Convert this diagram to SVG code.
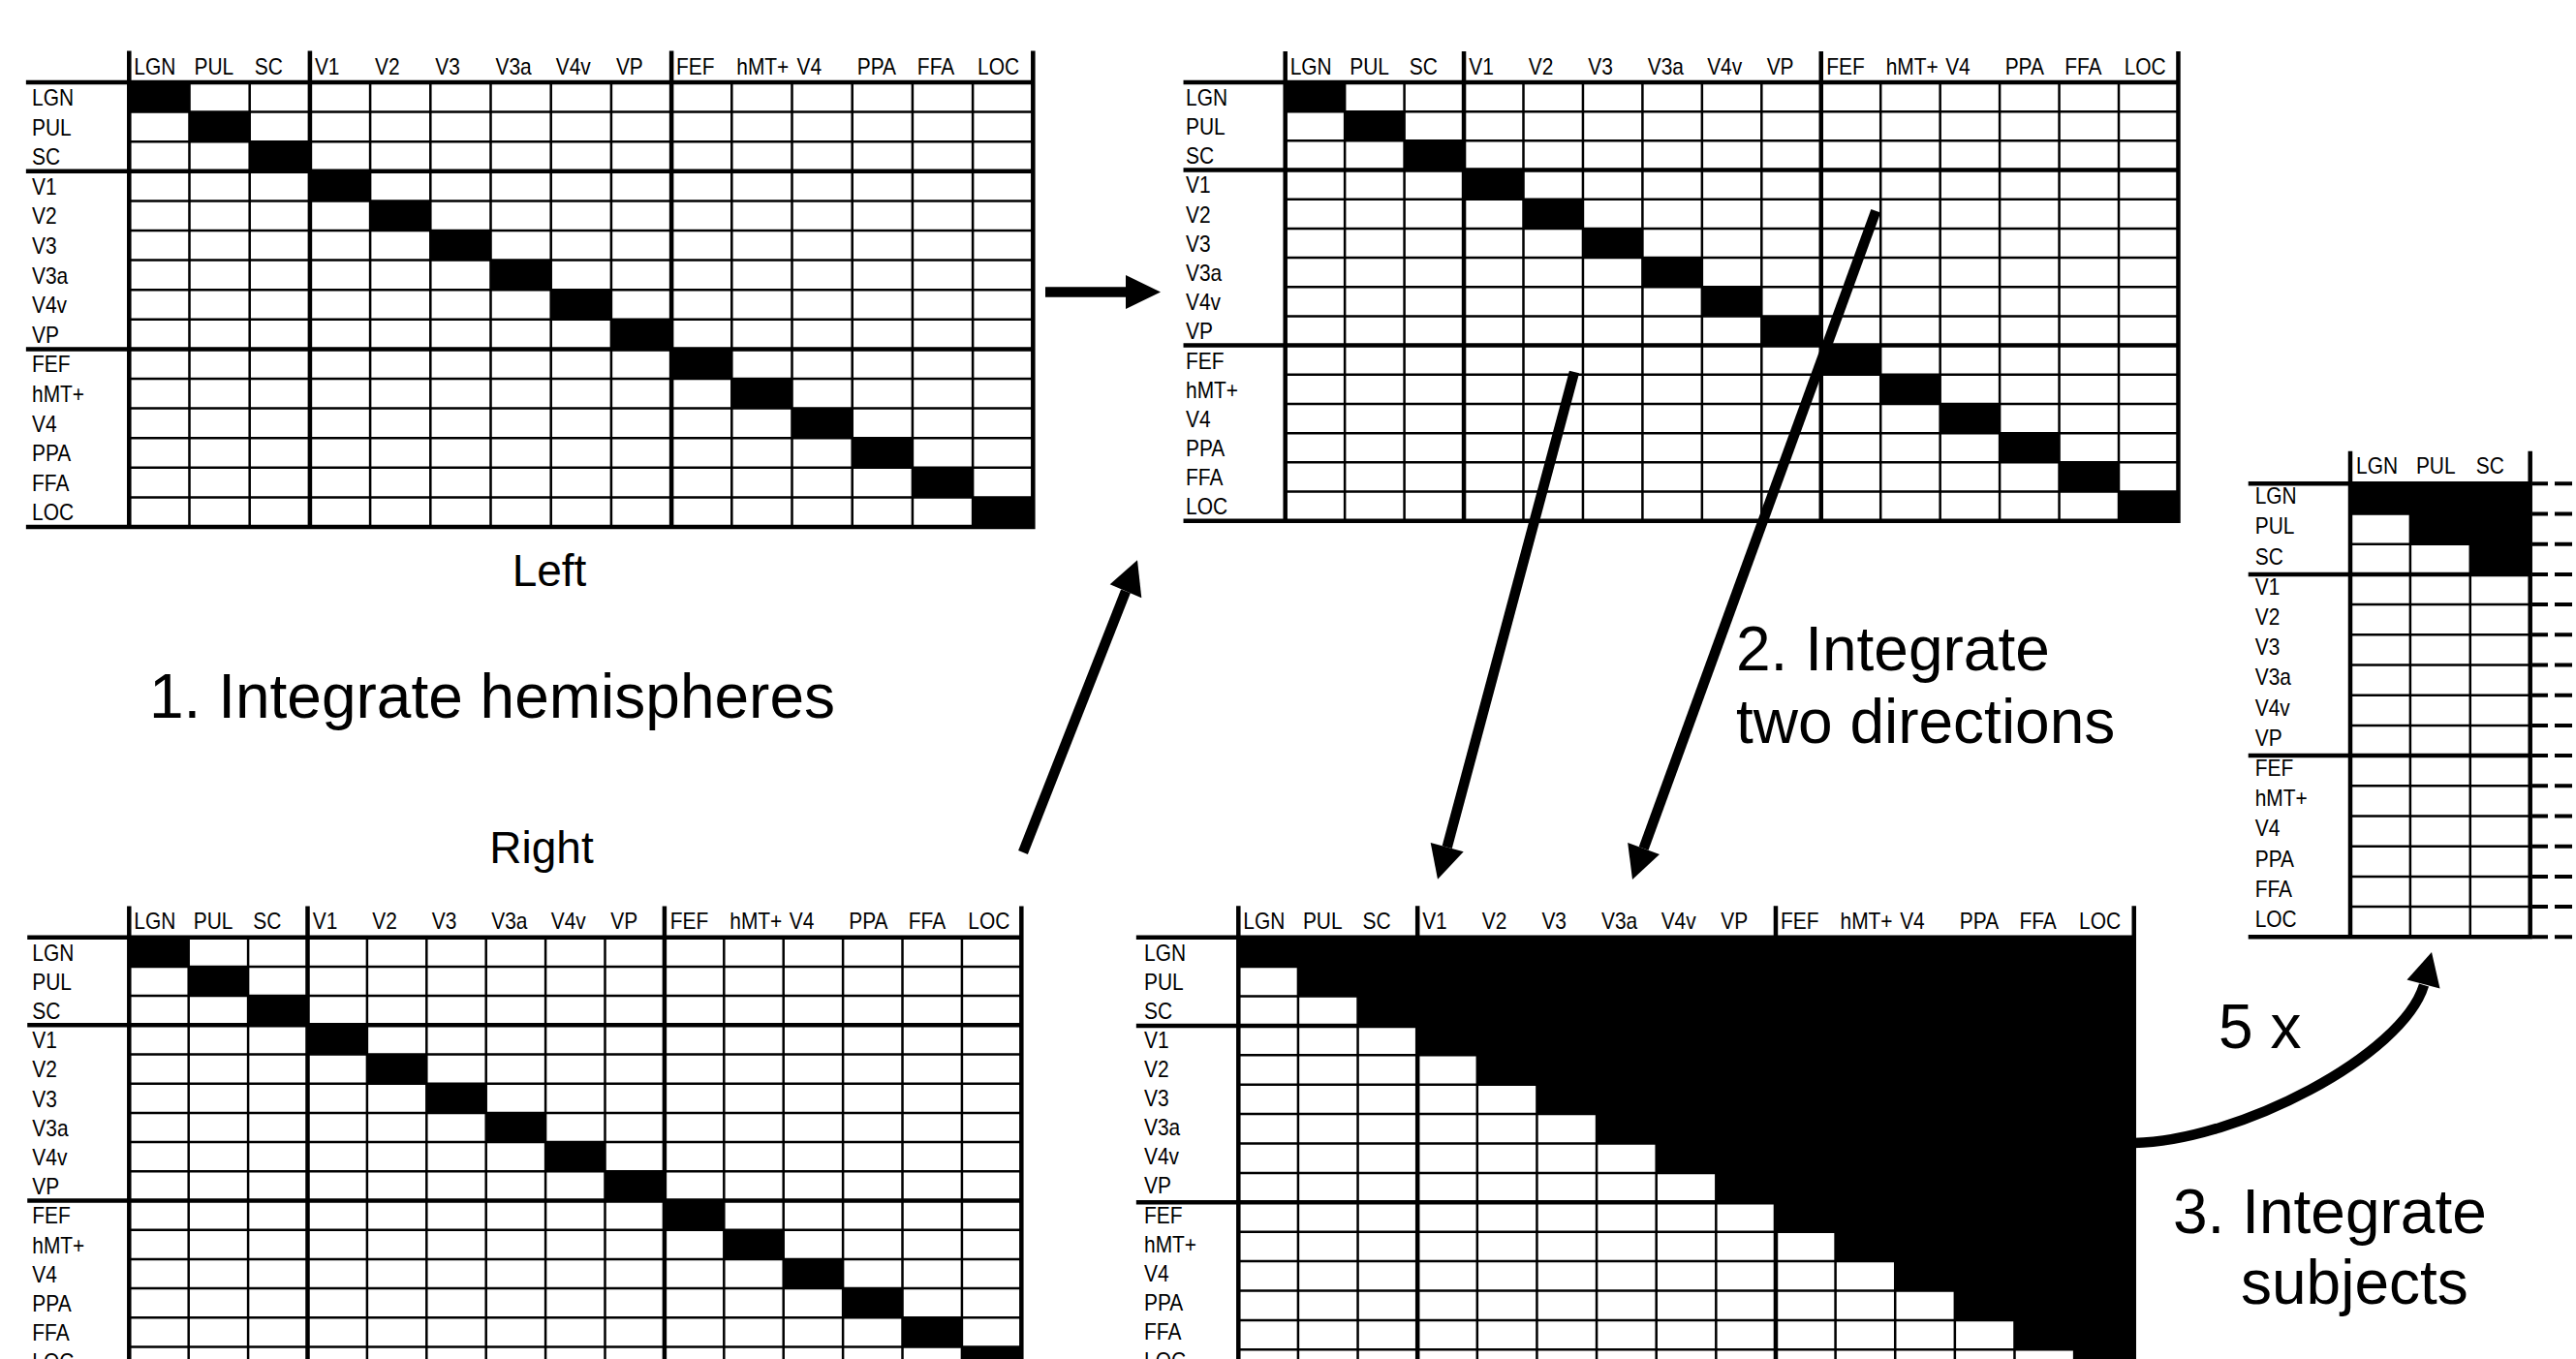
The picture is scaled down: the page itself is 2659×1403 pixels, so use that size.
<svg xmlns="http://www.w3.org/2000/svg" width="2659" height="1403" viewBox="0 0 2659 1403">
<style>
.thin{fill:none;stroke:#000;stroke-width:2.5}
.thick{fill:none;stroke:#000;stroke-width:4.5;stroke-linecap:square}
.dash{fill:none;stroke:#000;stroke-width:4}
.lab{font-family:"Liberation Sans",Arial,sans-serif;font-size:23px;fill:#000}
.big{font-family:"Liberation Sans",Arial,sans-serif;font-size:64px;fill:#000}
.mid{font-family:"Liberation Sans",Arial,sans-serif;font-size:46px;fill:#000}
.shaft{fill:none;stroke:#000;stroke-width:10.5}
.head{fill:#000;stroke:none}
.fill{fill:#000;stroke:none}
</style>
<defs>
<g id="grid15">
<path class="thin" d="M61.5,0V454.5M123,0V454.5M246,0V454.5M307.5,0V454.5M369,0V454.5M430.5,0V454.5M492,0V454.5M615,0V454.5M676.5,0V454.5M738,0V454.5M799.5,0V454.5M861,0V454.5M0,30.3H922.5M0,60.6H922.5M0,121.2H922.5M0,151.5H922.5M0,181.8H922.5M0,212.1H922.5M0,242.4H922.5M0,303H922.5M0,333.3H922.5M0,363.6H922.5M0,393.9H922.5M0,424.2H922.5"/>
<path class="thick" d="M0,-30V454.5M184.5,-30V454.5M553.5,-30V454.5M922.5,-30V454.5M-103,0H922.5M-103,90.9H922.5M-103,272.7H922.5M-103,454.5H922.5"/>
</g>
<path id="diag" class="fill" d="M0,0h61.5v30.3h-61.5zm61.5,30.3h61.5v30.3h-61.5zm61.5,30.3h61.5v30.3h-61.5zm61.5,30.3h61.5v30.3h-61.5zm61.5,30.3h61.5v30.3h-61.5zm61.5,30.3h61.5v30.3h-61.5zm61.5,30.3h61.5v30.3h-61.5zm61.5,30.3h61.5v30.3h-61.5zm61.5,30.3h61.5v30.3h-61.5zm61.5,30.3h61.5v30.3h-61.5zm61.5,30.3h61.5v30.3h-61.5zm61.5,30.3h61.5v30.3h-61.5zm61.5,30.3h61.5v30.3h-61.5zm61.5,30.3h61.5v30.3h-61.5zm61.5,30.3h61.5v30.3h-61.5z"/>
<path id="tri" class="fill" d="M0,0H922.5V454.5H861V424.2H799.5V393.9H738V363.6H676.5V333.3H615V303H553.5V272.7H492V242.4H430.5V212.1H369V181.8H307.5V151.5H246V121.2H184.5V90.9H123V60.6H61.5V30.3H0Z"/>
</defs>
<rect x="0" y="0" width="2659" height="1403" fill="#fff"/>

<g id="matrix-left">
<use href="#diag" transform="translate(133.3,85) scale(1.0114,1.0099)"/>
<use href="#grid15" transform="translate(133.3,85) scale(1.0114,1.0099)"/>
<g class="lab" transform="translate(33,0) scale(0.91,1)">
<text x="0" y="109">LGN</text><text x="0" y="139.6">PUL</text><text x="0" y="170.2">SC</text><text x="0" y="200.8">V1</text><text x="0" y="231.4">V2</text><text x="0" y="262">V3</text><text x="0" y="292.6">V3a</text><text x="0" y="323.2">V4v</text><text x="0" y="353.8">VP</text><text x="0" y="384.4">FEF</text><text x="0" y="415">hMT+</text><text x="0" y="445.6">V4</text><text x="0" y="476.2">PPA</text><text x="0" y="506.8">FFA</text><text x="0" y="537.4">LOC</text>
</g>
<g class="lab" transform="translate(138.3,77) scale(0.91,1)">
<text x="0">LGN</text><text x="68.35">PUL</text><text x="136.7">SC</text><text x="205.05">V1</text><text x="273.4">V2</text><text x="341.75">V3</text><text x="410.1">V3a</text><text x="478.45">V4v</text><text x="546.8">VP</text><text x="615.15">FEF</text><text x="683.5">hMT+</text><text x="751.85">V4</text><text x="820.2">PPA</text><text x="888.55">FFA</text><text x="956.9">LOC</text>
</g>
</g>

<g id="matrix-integrated-hemispheres">
<use href="#diag" transform="translate(1326.7,85) scale(0.9992,0.996)"/>
<use href="#grid15" transform="translate(1326.7,85) scale(0.9992,0.996)"/>
<g class="lab" transform="translate(1224,0) scale(0.91,1)">
<text x="0" y="109">LGN</text><text x="0" y="139.2">PUL</text><text x="0" y="169.4">SC</text><text x="0" y="199.5">V1</text><text x="0" y="229.7">V2</text><text x="0" y="259.9">V3</text><text x="0" y="290.1">V3a</text><text x="0" y="320.3">V4v</text><text x="0" y="350.4">VP</text><text x="0" y="380.6">FEF</text><text x="0" y="410.8">hMT+</text><text x="0" y="441">V4</text><text x="0" y="471.2">PPA</text><text x="0" y="501.3">FFA</text><text x="0" y="531.5">LOC</text>
</g>
<g class="lab" transform="translate(1331.7,76.7) scale(0.91,1)">
<text x="0">LGN</text><text x="67.58">PUL</text><text x="135.16">SC</text><text x="202.74">V1</text><text x="270.32">V2</text><text x="337.9">V3</text><text x="405.48">V3a</text><text x="473.06">V4v</text><text x="540.64">VP</text><text x="608.22">FEF</text><text x="675.8">hMT+</text><text x="743.38">V4</text><text x="810.96">PPA</text><text x="878.54">FFA</text><text x="946.12">LOC</text>
</g>
</g>

<g id="matrix-right">
<use href="#diag" transform="translate(133.3,967.7) scale(0.9984,0.9967)"/>
<use href="#grid15" transform="translate(133.3,967.7) scale(0.9984,0.9967)"/>
<g class="lab" transform="translate(33.3,0) scale(0.91,1)">
<text x="0" y="991.7">LGN</text><text x="0" y="1021.9">PUL</text><text x="0" y="1052.1">SC</text><text x="0" y="1082.3">V1</text><text x="0" y="1112.5">V2</text><text x="0" y="1142.7">V3</text><text x="0" y="1172.9">V3a</text><text x="0" y="1203.1">V4v</text><text x="0" y="1233.3">VP</text><text x="0" y="1263.5">FEF</text><text x="0" y="1293.7">hMT+</text><text x="0" y="1323.9">V4</text><text x="0" y="1354.1">PPA</text><text x="0" y="1384.3">FFA</text><text x="0" y="1414.5">LOC</text>
</g>
<g class="lab" transform="translate(138.3,959.3) scale(0.91,1)">
<text x="0">LGN</text><text x="67.58">PUL</text><text x="135.16">SC</text><text x="202.74">V1</text><text x="270.32">V2</text><text x="337.9">V3</text><text x="405.48">V3a</text><text x="473.06">V4v</text><text x="540.64">VP</text><text x="608.22">FEF</text><text x="675.8">hMT+</text><text x="743.38">V4</text><text x="810.96">PPA</text><text x="878.54">FFA</text><text x="946.12">LOC</text>
</g>
</g>

<g id="matrix-integrated-directions">
<use href="#tri" transform="translate(1278.3,967.7) scale(1.0021,1.0033)"/>
<use href="#grid15" transform="translate(1278.3,967.7) scale(1.0021,1.0033)"/>
<g class="lab" transform="translate(1181,0) scale(0.91,1)">
<text x="0" y="991.7">LGN</text><text x="0" y="1021.8">PUL</text><text x="0" y="1051.9">SC</text><text x="0" y="1082">V1</text><text x="0" y="1112.1">V2</text><text x="0" y="1142.2">V3</text><text x="0" y="1172.3">V3a</text><text x="0" y="1202.4">V4v</text><text x="0" y="1232.5">VP</text><text x="0" y="1262.6">FEF</text><text x="0" y="1292.7">hMT+</text><text x="0" y="1322.8">V4</text><text x="0" y="1352.9">PPA</text><text x="0" y="1383">FFA</text><text x="0" y="1413.1">LOC</text>
</g>
<g class="lab" transform="translate(1283.3,959) scale(0.91,1)">
<text x="0">LGN</text><text x="67.72">PUL</text><text x="135.44">SC</text><text x="203.16">V1</text><text x="270.88">V2</text><text x="338.6">V3</text><text x="406.32">V3a</text><text x="474.04">V4v</text><text x="541.76">VP</text><text x="609.48">FEF</text><text x="677.2">hMT+</text><text x="744.92">V4</text><text x="812.64">PPA</text><text x="880.36">FFA</text><text x="948.08">LOC</text>
</g>
</g>

<g id="matrix-subjects">
<path class="fill" d="M2426,499.3H2611.7V592.9H2549.8V561.7H2487.9V530.5H2426Z"/>
<path class="thin" d="M2487.9,499.3V967.3M2549.8,499.3V967.3M2426,530.5H2611.7M2426,561.7H2611.7M2426,624.1H2611.7M2426,655.3H2611.7M2426,686.5H2611.7M2426,717.7H2611.7M2426,748.9H2611.7M2426,811.3H2611.7M2426,842.5H2611.7M2426,873.7H2611.7M2426,904.9H2611.7M2426,936.1H2611.7"/>
<path class="thick" d="M2426,468V967.3M2611.7,468V967.3M2323,499.3H2611.7M2323,592.9H2611.7M2323,780.1H2611.7M2323,967.3H2611.7"/>
<path class="dash" d="M2614,499.3H2630M2637,499.3H2655M2614,530.5H2630M2637,530.5H2655M2614,561.7H2630M2637,561.7H2655M2614,592.9H2630M2637,592.9H2655M2614,624.1H2630M2637,624.1H2655M2614,655.3H2630M2637,655.3H2655M2614,686.5H2630M2637,686.5H2655M2614,717.7H2630M2637,717.7H2655M2614,748.9H2630M2637,748.9H2655M2614,780.1H2630M2637,780.1H2655M2614,811.3H2630M2637,811.3H2655M2614,842.5H2630M2637,842.5H2655M2614,873.7H2630M2637,873.7H2655M2614,904.9H2630M2637,904.9H2655M2614,936.1H2630M2637,936.1H2655M2614,967.3H2630M2637,967.3H2655"/>
<g class="lab" transform="translate(2327.7,0) scale(0.91,1)">
<text x="0" y="520.3">LGN</text><text x="0" y="551.5">PUL</text><text x="0" y="582.7">SC</text><text x="0" y="613.9">V1</text><text x="0" y="645.1">V2</text><text x="0" y="676.3">V3</text><text x="0" y="707.5">V3a</text><text x="0" y="738.7">V4v</text><text x="0" y="769.9">VP</text><text x="0" y="801.1">FEF</text><text x="0" y="832.3">hMT+</text><text x="0" y="863.5">V4</text><text x="0" y="894.7">PPA</text><text x="0" y="925.9">FFA</text><text x="0" y="957.1">LOC</text>
</g>
<g class="lab" transform="translate(2432,489.3) scale(0.91,1)">
<text x="0">LGN</text><text x="68.02">PUL</text><text x="136.04">SC</text>
</g>
</g>

<g id="connectors">
<path class="shaft" d="M1079,301.5H1164"/>
<polygon class="head" points="1162,284 1198,301.5 1162,319"/>
<path class="shaft" d="M1056,880L1162,610.3"/>
<polygon class="head" points="1145.7,603.3 1174,578.3 1178.3,617.3"/>
<path class="shaft" d="M1625,384L1493.7,874.7"/>
<polygon class="head" points="1476.7,870 1484,907.7 1510.7,879.3"/>
<path class="shaft" d="M1936.3,217.7L1696.6,876"/>
<polygon class="head" points="1680.2,870.1 1685,908 1713,882"/>
<path class="shaft" d="M2203,1180C2310,1178 2480,1090 2502,1017"/>
<polygon class="head" points="2484.5,1011.6 2510,983 2518.5,1020.4"/>
</g>

<g id="labels">
<text class="mid" x="567" y="605" text-anchor="middle">Left</text>
<text class="mid" x="559" y="891" text-anchor="middle">Right</text>
<text class="big" x="154" y="741">1. Integrate hemispheres</text>
<text class="big" x="1792" y="692">2. Integrate</text>
<text class="big" x="1792" y="767">two directions</text>
<text class="big" x="2290" y="1082">5 x</text>
<text class="big" x="2243" y="1273">3. Integrate</text>
<text class="big" x="2313" y="1346">subjects</text>
</g>
</svg>
